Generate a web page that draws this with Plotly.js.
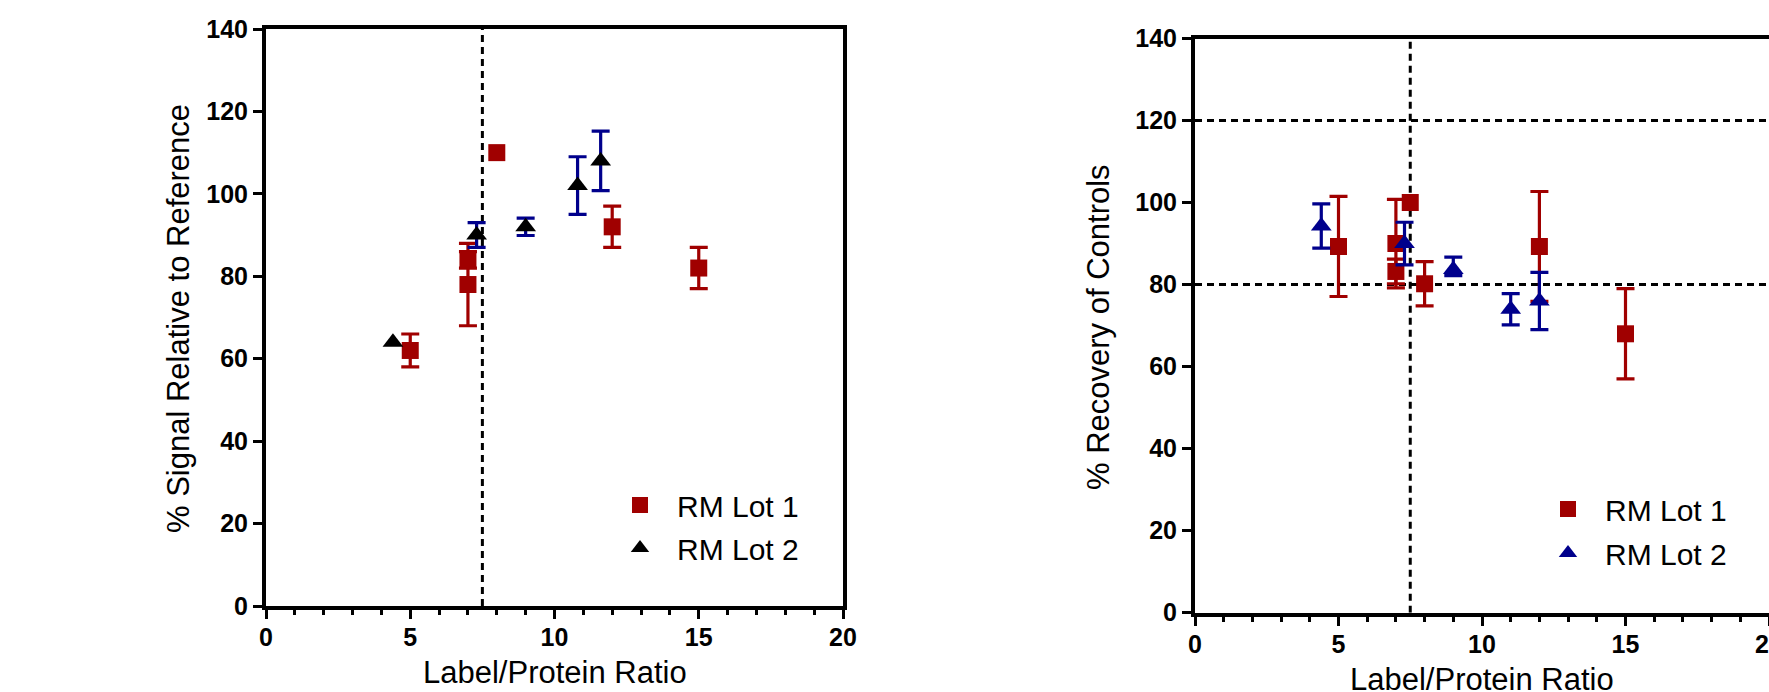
<!DOCTYPE html>
<html>
<head>
<meta charset="utf-8">
<script src="https://cdn.plot.ly/plotly-3.0.1.min.js"></script>
<style>
html, body { margin: 0; padding: 0; overflow: hidden; background: #fff; }
#chart { width: 1769px; height: 692px; }
</style>
</head>
<body>
<div id="chart"></div>
<script>
// ---- Data ----
// Left panel: % Signal Relative to Reference
var leftLot1X = [5, 7, 7, 8, 12, 15];
var leftLot1Y = [62, 84, 78, 110, 92, 82];
var leftLot1Err = [4, 2, 10, NaN, 5, 5];

var leftLot2X = [4.4, 7.3, 9, 10.8, 11.6];
var leftLot2Y = [64, 90, 92, 102, 108];
var leftLot2Err = [NaN, 3, 2.1, 7, 7.2];

// Right panel: % Recovery of Controls
var rightLot1X = [5, 7, 7, 7.5, 8, 12, 15];
var rightLot1Y = [89.3, 90, 83.2, 100, 80.2, 89.3, 68];
var rightLot1Err = [12.2, 10.8, 3, NaN, 5.4, 13.4, 11];

var rightLot2X = [4.4, 7.3, 9, 11, 12];
var rightLot2Y = [94.3, 90, 83.7, 74, 76];
var rightLot2ErrPlus = [5.4, 5.2, 3, 3.8, 7];
var rightLot2ErrMinus = [5.4, 5.2, 1.5, 3.8, 7];

var seriesNames = ['RM Lot 1', 'RM Lot 2'];
var xTitle = 'Label/Protein Ratio';
var leftYTitle = '% Signal Relative to Reference';
var rightYTitle = '% Recovery of Controls';
var threshold = 7.5;
var rightLimits = [80, 120];

// ---- Styling ----
var RED = '#A00000';
var BLUE = '#00008C';
var BLACK = '#000000';
var FONT = 'Liberation Sans, Arial, sans-serif';
var W = 1769, H = 692;

function px(x) { return x / W; }
function py(y) { return 1 - y / H; }

function errBars(arr, color, minus) {
  var e = {type: 'data', array: arr, visible: true, color: color, thickness: 3.2, width: 9};
  if (minus) { e.symmetric = false; e.arrayminus = minus; }
  return e;
}

var traces = [
  {x: leftLot1X, y: leftLot1Y, type: 'scatter', mode: 'markers', name: seriesNames[0],
   xaxis: 'x', yaxis: 'y', legend: 'legend', legendgroup: 'l1',
   marker: {symbol: 'square', size: 17, color: RED},
   error_y: errBars(leftLot1Err, RED)},
  {x: leftLot2X, y: leftLot2Y, type: 'scatter', mode: 'markers', name: seriesNames[1],
   xaxis: 'x', yaxis: 'y', legend: 'legend', legendgroup: 'l2',
   marker: {symbol: 'triangle-up', size: 18, color: BLACK},
   error_y: errBars(leftLot2Err, BLUE)},
  {x: rightLot1X, y: rightLot1Y, type: 'scatter', mode: 'markers', name: seriesNames[0],
   xaxis: 'x2', yaxis: 'y2', legend: 'legend2', legendgroup: 'r1',
   marker: {symbol: 'square', size: 17, color: RED},
   error_y: errBars(rightLot1Err, RED)},
  {x: rightLot2X, y: rightLot2Y, type: 'scatter', mode: 'markers', name: seriesNames[1],
   xaxis: 'x2', yaxis: 'y2', legend: 'legend2', legendgroup: 'r2',
   marker: {symbol: 'triangle-up', size: 18, color: BLUE},
   error_y: errBars(rightLot2ErrPlus, BLUE, rightLot2ErrMinus)}
];

var tickFont = {family: FONT, size: 25, color: BLACK, weight: 'bold'};

function xAxis(domain, anchor, mirror) {
  return {
    domain: domain, anchor: anchor, range: [0, 20], dtick: 5, tick0: 0,
    showgrid: false, zeroline: false, showline: true, linecolor: BLACK, linewidth: 4,
    mirror: mirror, ticks: 'outside', ticklen: 9, tickwidth: 3, tickcolor: BLACK,
    tickfont: tickFont, fixedrange: true, ticklabeloverflow: 'allow', ticklabelstandoff: -3,
    minor: {dtick: 1, tick0: 0, ticks: 'outside', ticklen: 5, tickwidth: 3, tickcolor: BLACK, showgrid: false}
  };
}
function yAxis(domain, anchor, mirror) {
  return {
    domain: domain, anchor: anchor, range: [0, 140], dtick: 20, tick0: 0,
    showgrid: false, zeroline: false, showline: true, linecolor: BLACK, linewidth: 4,
    mirror: mirror, ticks: 'outside', ticklen: 9, tickwidth: 3, tickcolor: BLACK,
    tickfont: tickFont, fixedrange: true
  };
}

var dashLine = {color: BLACK, width: 3, dash: '7px,5px'};

var shapes = [
  {type: 'line', xref: 'x', yref: 'y', x0: threshold, x1: threshold, y0: 0, y1: 140, line: dashLine, layer: 'below'},
  {type: 'line', xref: 'x2', yref: 'y2', x0: threshold, x1: threshold, y0: 0, y1: 140, line: dashLine, layer: 'below'},
  {type: 'line', xref: 'x2', yref: 'y2', x0: 0, x1: 20, y0: rightLimits[0], y1: rightLimits[0], line: dashLine, layer: 'below'},
  {type: 'line', xref: 'x2', yref: 'y2', x0: 0, x1: 20, y0: rightLimits[1], y1: rightLimits[1], line: dashLine, layer: 'below'}
];

var titleFont = {family: FONT, size: 31, color: BLACK};

var annotations = [
  {text: xTitle, xref: 'paper', yref: 'paper', x: px(554.5), y: py(672), xanchor: 'center', yanchor: 'middle', showarrow: false, font: titleFont},
  {text: leftYTitle, xref: 'paper', yref: 'paper', x: px(178), y: py(319), xanchor: 'center', yanchor: 'middle', textangle: -90, showarrow: false, font: titleFont},
  {text: xTitle, xref: 'paper', yref: 'paper', x: px(1482), y: py(679), xanchor: 'center', yanchor: 'middle', showarrow: false, font: titleFont},
  {text: rightYTitle, xref: 'paper', yref: 'paper', x: px(1098), y: py(327), xanchor: 'center', yanchor: 'middle', textangle: -90, showarrow: false, font: titleFont}
];

var legendFont = {family: FONT, size: 30, color: BLACK};

var layout = {
  width: W, height: H,
  margin: {l: 0, r: 0, t: 0, b: 0, pad: 0},
  paper_bgcolor: '#ffffff', plot_bgcolor: 'rgba(0,0,0,0)',
  showlegend: true,
  xaxis: xAxis([px(266), px(843)], 'y', true),
  yaxis: yAxis([py(606), py(29)], 'x', true),
  xaxis2: xAxis([px(1195), 1], 'y2', true),
  yaxis2: yAxis([py(612.7), py(38.5)], 'x2', false),
  legend: {x: px(603), y: py(479), xanchor: 'left', yanchor: 'top', font: legendFont,
           bgcolor: 'rgba(0,0,0,0)', traceorder: 'grouped', tracegroupgap: 1, itemwidth: 64},
  legend2: {x: px(1531), y: py(483), xanchor: 'left', yanchor: 'top', font: legendFont,
           bgcolor: 'rgba(0,0,0,0)', traceorder: 'grouped', tracegroupgap: 2, itemwidth: 64},
  shapes: shapes,
  annotations: annotations
};

Plotly.newPlot('chart', traces, layout, {displayModeBar: false, staticPlot: true});
</script>
</body>
</html>
